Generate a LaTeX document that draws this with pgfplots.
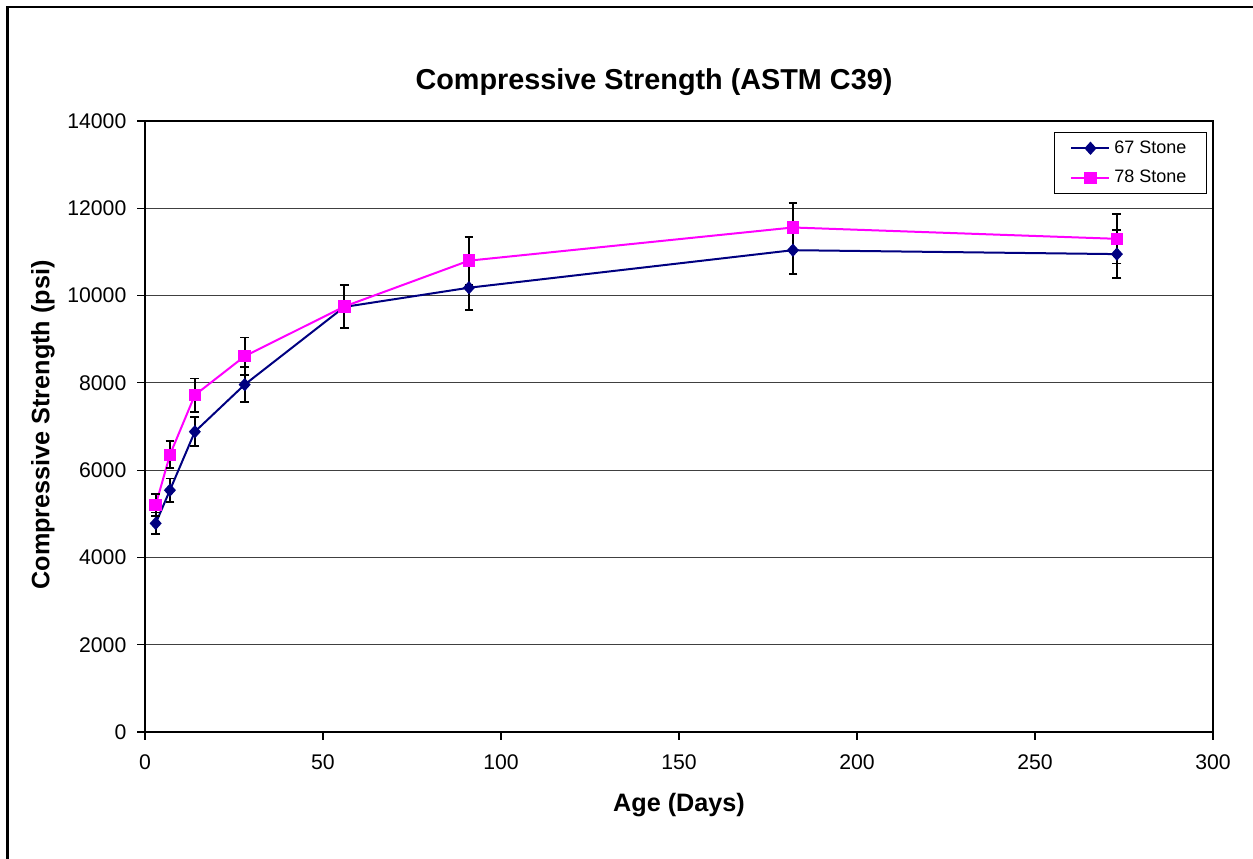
\documentclass[border=0pt]{standalone}
\usepackage{fontspec}
\setmainfont{Liberation Sans}
\usepackage{pgfplots}
\usepackage{pgfplotstable}
\pgfplotsset{compat=1.18}

\definecolor{stoneBlue}{RGB}{0,0,128}
\definecolor{stonePink}{RGB}{255,0,255}

\pgfplotsset{
    sdbars/.style={
        error bars/y dir=both, error bars/y explicit,
        error bars/error bar style={black, line width=0.9pt},
        error bars/error mark options={rotate=90, black, mark size=2.2pt, line width=0.9pt},
    },
}

% age (days), strength (psi), std dev
\pgfplotstableread{
age str err
3   4780  250
7   5540  270
14  6880  330
28  7960  400
56  9740  490
91  10180 510
182 11040 550
273 10950 550
}\stoneA

\pgfplotstableread{
age str err
3   5200  250
7   6350  310
14  7720  380
28  8610  430
56  9750  490
91  10800 550
182 11560 570
273 11300 565
}\stoneB

\begin{document}
\begin{tikzpicture}
% page is 1253x858 px at 0.5pt per px
\path[use as bounding box] (0,0) rectangle (626.5pt,429pt);
\draw[line width=1.2pt] (3.75pt,-2pt) -- (3.75pt,425.6pt) -- (630pt,425.6pt);

\begin{axis}[
    at={(72.5pt,63pt)}, anchor=south west,
    scale only axis,
    width=534pt, height=305.5pt,
    xmin=0, xmax=300, ymin=0, ymax=14000,
    xtick={0,50,...,300},
    ytick={0,2000,...,14000},
    scaled y ticks=false,
    /pgf/number format/1000 sep={},
    /pgf/number format/assume math mode=true,
    tick align=outside,
    major tick length=3.8pt,
    tick style={black, line width=0.6pt},
    xtick pos=bottom, ytick pos=left,
    ymajorgrids,
    major grid style={black!75, line width=0.5pt},
    axis line style={black, line width=0.7pt},
    ticklabel style={font=\fontsize{10.6}{12}\selectfont},
    xticklabel style={yshift=-4pt},
    yticklabel style={xshift=-2pt},
    legend style={at={(rel axis cs:0.9944,0.982)}, anchor=north east,
        draw=black, line width=0.5pt,
        font=\fontsize{9}{11}\selectfont,
        row sep=3pt, inner xsep=8pt, inner ysep=2pt},
    legend cell align=left,
    legend image code/.code={
        \draw[mark repeat=2, mark phase=2]
        plot coordinates {(0pt,0pt) (9.5pt,0pt) (19pt,0pt)};},
]
\addplot[stoneBlue, line width=1pt, mark=diamond*, mark size=2.6pt,
    mark options={fill=stoneBlue, draw=stoneBlue, xscale=1.2}, sdbars]
    table[x=age, y=str, y error=err] {\stoneA};
\addlegendentry{67 Stone}
\addplot[stonePink, line width=1pt, mark=square*, mark size=2.6pt,
    mark options={fill=stonePink, draw=stonePink}, sdbars]
    table[x=age, y=str, y error=err] {\stoneB};
\addlegendentry{78 Stone}
\end{axis}

\node[font=\bfseries\fontsize{14.4}{16}\selectfont] at (327pt,388pt)
    {Compressive Strength (ASTM C39)};
\node[font=\bfseries\fontsize{12.6}{15}\selectfont] at (339.5pt,26.5pt)
    {Age (Days)};
\node[font=\bfseries\fontsize{12.6}{15}\selectfont, rotate=90] at (21.5pt,216.5pt)
    {Compressive Strength (psi)};
\end{tikzpicture}
\end{document}
